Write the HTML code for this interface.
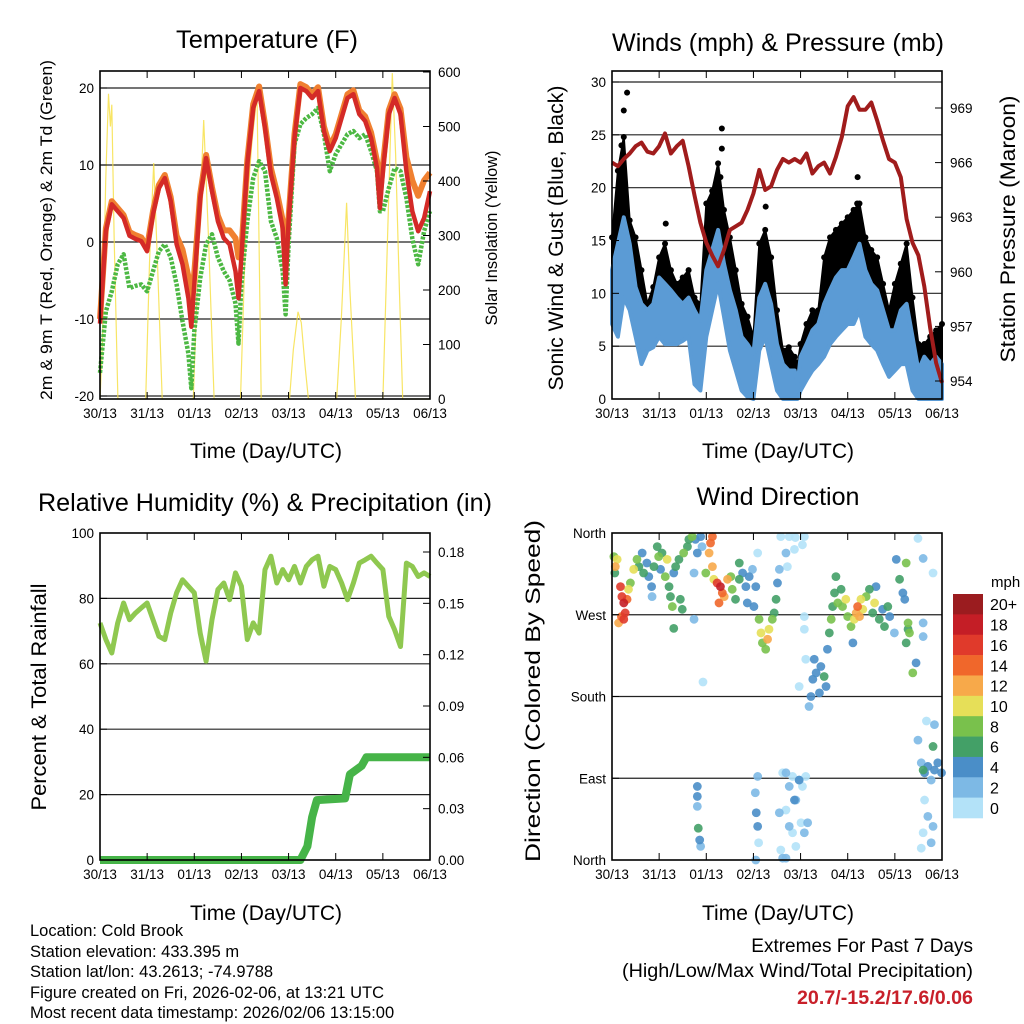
<!DOCTYPE html>
<html><head><meta charset="utf-8"><style>
html,body{margin:0;padding:0;background:#fff}
svg{display:block;font-family:"Liberation Sans",sans-serif}
</style></head><body>
<svg id="s" width="1024" height="1024" viewBox="0 0 1024 1024" xmlns="http://www.w3.org/2000/svg">
<rect width="1024" height="1024" fill="#fff"/>
<g id="g"></g>
<text x="267" y="48" font-size="25" text-anchor="middle" textLength="182" lengthAdjust="spacingAndGlyphs">Temperature (F)</text>
<text x="778" y="51" font-size="25" text-anchor="middle" textLength="332" lengthAdjust="spacingAndGlyphs">Winds (mph) &amp; Pressure (mb)</text>
<text x="265" y="511" font-size="25" text-anchor="middle" textLength="454" lengthAdjust="spacingAndGlyphs">Relative Humidity (%) &amp; Precipitation (in)</text>
<text x="778" y="505" font-size="25" text-anchor="middle" textLength="163" lengthAdjust="spacingAndGlyphs">Wind Direction</text>
<text x="266" y="458" font-size="21" text-anchor="middle" textLength="152" lengthAdjust="spacingAndGlyphs">Time (Day/UTC)</text>
<text x="778" y="458" font-size="21" text-anchor="middle" textLength="152" lengthAdjust="spacingAndGlyphs">Time (Day/UTC)</text>
<text x="266" y="920" font-size="21" text-anchor="middle" textLength="152" lengthAdjust="spacingAndGlyphs">Time (Day/UTC)</text>
<text x="778" y="920" font-size="21" text-anchor="middle" textLength="152" lengthAdjust="spacingAndGlyphs">Time (Day/UTC)</text>
<text transform="translate(52,230) rotate(-90)" font-size="17" text-anchor="middle" textLength="340" lengthAdjust="spacingAndGlyphs">2m &amp; 9m T (Red, Orange) &amp; 2m Td (Green)</text>
<text transform="translate(497,238) rotate(-90)" font-size="16.5" text-anchor="middle" textLength="175" lengthAdjust="spacingAndGlyphs">Solar Insolation (Yellow)</text>
<text transform="translate(563,238) rotate(-90)" font-size="21" text-anchor="middle" textLength="305" lengthAdjust="spacingAndGlyphs">Sonic Wind &amp; Gust (Blue, Black)</text>
<text transform="translate(1015,229) rotate(-90)" font-size="21" text-anchor="middle" textLength="267" lengthAdjust="spacingAndGlyphs">Station Pressure (Maroon)</text>
<text transform="translate(46,697) rotate(-90)" font-size="21" text-anchor="middle" textLength="227" lengthAdjust="spacingAndGlyphs">Percent &amp; Total Rainfall</text>
<text transform="translate(540,691) rotate(-90)" font-size="21" text-anchor="middle" textLength="342" lengthAdjust="spacingAndGlyphs">Direction (Colored By Speed)</text>
<g font-size="16.5">
<text x="30" y="936">Location: Cold Brook</text>
<text x="30" y="957">Station elevation: 433.395 m</text>
<text x="30" y="977">Station lat/lon: 43.2613; -74.9788</text>
<text x="30" y="998">Figure created on Fri, 2026-02-06, at 13:21 UTC</text>
<text x="30" y="1018">Most recent data timestamp: 2026/02/06 13:15:00</text>
</g>
<text x="973" y="952" font-size="19" text-anchor="end">Extremes For Past 7 Days</text>
<text x="973" y="977" font-size="19" text-anchor="end" textLength="351" lengthAdjust="spacingAndGlyphs">(High/Low/Max Wind/Total Precipitation)</text>
<text x="973" y="1004" font-size="19" font-weight="bold" fill="#c8202a" text-anchor="end" textLength="176" lengthAdjust="spacingAndGlyphs">20.7/-15.2/17.6/0.06</text>
</svg>
<script>
// ---------- data ----------
const dayLabels=["30/13","31/13","01/13","02/13","03/13","04/13","05/13","06/13"];
const tT=[0,0.125,0.25,0.375,0.5,0.625,0.75,0.875,1,1.125,1.25,1.375,1.5,1.625,1.75,1.875,1.9375,2,2.125,2.25,2.375,2.5,2.625,2.75,2.875,2.9375,3,3.125,3.25,3.375,3.5,3.625,3.75,3.875,3.9375,4,4.125,4.25,4.375,4.5,4.625,4.75,4.875,5,5.125,5.25,5.375,5.5,5.625,5.75,5.875,5.9375,6,6.125,6.25,6.375,6.5,6.625,6.75,6.875,7];
const temp2m=[-10.6,1.4,4.9,4,3.1,0.8,0.4,0.1,-1.2,3.6,7,8.3,5.3,-0.3,-2.9,-7.3,-11,-5.5,5.7,10.9,6.6,2.7,0.5,-0.3,-3.8,-7.3,-2,10.1,17.4,19.6,14.8,8.8,5.7,1.8,-5.5,2.7,13.5,20,19.6,18.7,19.6,14.4,11.8,13.5,16.1,18.7,19.2,16.6,15.7,13.5,9.6,4.4,9.2,16.6,18.7,16.6,9.2,4,1.4,3.1,6.6];
const temp9m=[-10,1.8,5.3,4.4,3.5,1.3,0.9,0.6,-0.7,4,7.4,8.7,5.8,0.8,-1,-4.5,-8,-4,6.2,11.3,7.1,3.4,1.5,1.5,0.5,-2,-1,10.6,17.9,20.2,15.3,9.6,6.5,2.8,-3,3.2,14,20.5,20.1,19.2,20.1,15,12.4,14,16.6,19.2,19.7,17.1,16.3,14.2,10.5,6,10,17.1,19.2,17.3,11,8,6,8,9];
const dew2m=[-17,-9,-6.4,-2.9,-1.6,-6,-5.7,-5.5,-6.4,-3.8,-1.2,-0.3,-2,-5.5,-10.3,-14.5,-19,-11.6,-4.7,-0.3,1,-2,-3.8,-5,-8,-13.2,-5.5,2.7,8.3,10.5,9.2,2.7,0.5,-3.8,-9.4,-0.3,12.7,15.3,16.1,16.6,17.4,14,9.2,11.4,12.7,14,14.4,13.5,14,11.8,9.2,4,4,7,9.6,9.2,5.7,0.5,-2.9,1.4,4];
const solarT=[0,0.05,0.12,0.18,0.22,0.25,0.3,0.38,0.97,1.05,1.14,1.22,1.32,1.98,2.1,2.2,2.3,2.42,2.98,3.1,3.22,3.33,3.42,4.02,4.1,4.2,4.27,4.35,4.42,5.02,5.12,5.23,5.3,5.42,6.0,6.1,6.2,6.27,6.35,6.42,7];
const solarV=[0,100,400,560,500,540,300,0,0,250,433,250,0,0,300,512,300,0,0,330,470,560,0,0,90,160,140,60,0,0,150,360,200,0,0,300,598,450,200,0,0];
const windT=[0,0.125,0.25,0.375,0.5,0.625,0.75,0.875,1,1.125,1.25,1.375,1.5,1.625,1.75,1.875,2,2.125,2.25,2.375,2.5,2.625,2.75,2.875,3,3.125,3.25,3.375,3.5,3.625,3.75,3.875,3.9375,4,4.125,4.25,4.375,4.5,4.625,4.75,4.875,5,5.125,5.25,5.375,5.5,5.625,5.75,5.875,6,6.125,6.25,6.375,6.5,6.625,6.75,6.875,7];
const windHi=[12.2,14.7,17.2,14.7,10.6,9,8.4,9,11.5,10.9,10.3,9.6,9,9.6,8.4,7.4,12.2,14.1,16,12.8,10.3,8.4,5.9,5.2,4.3,9.6,10.9,9,5.2,3.3,2.7,2.7,1.4,4,5.2,6.5,7.1,9,10.3,11.5,12.2,12.2,13.4,14.7,12.2,10.9,10.3,8.4,6.5,6.5,8.4,9,5.9,2.7,4,3.3,4,3.3];
const windLo=[7.1,5.9,9.6,8.4,5.9,3.3,4.6,4.9,5.9,5.2,5.2,5.2,5.5,5.9,1.4,0.8,5.9,8.4,10.9,7.8,4.6,2.7,0.8,0.2,0,4.6,5.9,3.3,0.8,0,0,0,0,0.8,1.8,2.7,3.3,4,5.2,5.9,6.5,7.1,7.1,8.4,5.9,5.2,4.6,3.3,2.1,2.7,3.3,3.3,0.8,0,0,0,0,0];
const gustHi=[15.3,21.6,24.8,16.9,15.3,12.2,9,10.6,13.4,14.7,12.2,10.9,11.5,12.2,9.6,9,18.5,19.7,22.3,17.9,15.3,12.2,9,7.8,5.9,14.7,16,13.4,8.4,4.6,4.9,4,3.3,5.2,7.1,8.4,8.4,13.4,15.3,16,16.6,17.2,17.9,18.5,15.3,14.1,13.4,10.9,8.4,10.9,12.8,14.7,9.6,5.2,5.2,5.9,6.5,7.1];
const gustLo=[10.6,10.6,13.4,12.2,9,6.5,5.2,6.5,8.4,9,7.8,7.1,6.5,7.1,5.2,4.6,11.5,12.2,13.4,10.9,8.4,5.9,4,3.3,2.7,8.4,9.6,7.1,4,1.4,1.4,1.1,0.8,2.1,3.3,4.6,5.2,7.1,8.4,9.6,10.3,10.9,11.5,12.8,10.3,9,8.4,6.5,4,5.9,7.1,8.4,3.3,1.4,2.1,1.4,2.7,2.7];
const gustOutT=[0.32,0.25,2.33,2.33,5.21,1.14,3.26,0.2,2.3,5.2,4.9];
const gustOutV=[29,27.3,25.6,23.7,21,16.6,18.2,24,21,18.5,16];
const presT=windT;
const pressure=[966,965.8,966.2,966.5,966.9,967.1,966.6,966.5,966.9,967.6,966.5,966.9,967.2,965.8,964.2,962.7,961.6,960.9,960.3,961.2,962.3,962.5,962.7,963.4,964.3,965.6,964.5,964.7,965.6,966.2,966,966.2,966.1,966,966.5,965.4,965.8,966,965.4,966.3,967.4,969.1,969.6,968.9,968.9,969.3,968.3,967.2,966.2,966,965.2,962.9,961.6,960.9,959.2,956.9,955,953.9];
const rhT=[0,0.125,0.25,0.375,0.5,0.625,0.75,0.875,1,1.125,1.25,1.375,1.5,1.625,1.75,1.875,2,2.125,2.25,2.375,2.5,2.625,2.75,2.875,3,3.125,3.25,3.375,3.5,3.625,3.75,3.875,4,4.125,4.25,4.375,4.5,4.625,4.75,4.875,5,5.125,5.25,5.375,5.5,5.625,5.75,5.875,6,6.125,6.25,6.375,6.5,6.625,6.75,6.875,7];
const rhV=[72.5,67.4,63.3,72.5,78.6,73.5,75.5,77.1,78.6,73.5,68.4,67.4,75.5,81.7,85.7,83.7,81.7,69.4,60.8,73.5,82.7,84.7,79.6,87.8,83.7,67.4,72.5,69.4,88.8,92.9,84.7,88.8,85.7,89.8,84.7,89.8,91.8,92.9,83.7,89.8,88.8,84.7,79.6,84.7,90.8,91.8,92.9,90.8,88.8,74.5,70.4,65.3,90.8,89.8,86.7,87.8,86.7];
const precipT=[0,4.25,4.4,4.5,4.6,5.2,5.3,5.55,5.65,7];
const precipV=[0,0,0.008,0.025,0.035,0.036,0.05,0.055,0.06,0.06];
const dirDay=[0.04,0.07,0.11,0.06,0.18,0.21,0.25,0.28,0.2,0.32,0.35,0.39,0.14,0.25,0.46,0.53,0.57,0.64,0.67,0.74,0.78,0.84,0.85,0.89,0.96,0.99,1.03,1.06,1.13,1.17,1.21,1.24,1.28,1.31,1.35,1.42,1.45,1.49,1.52,1.6,1.63,1.7,1.77,1.81,1.88,1.91,1.74,1.31,1.74,1.93,1.99,2.06,2.09,2.13,2.13,2.16,2.23,2.3,2.34,2.38,2.27,2.45,2.52,2.55,2.62,2.7,2.7,2.77,2.84,2.87,2.91,2.98,3.05,3.01,3.09,3.12,3.16,3.19,3.26,3.3,3.33,3.4,3.44,3.48,3.51,3.55,3.58,3.69,3.72,3.76,3.89,4.08,3.87,4.04,4.08,4.08,4.11,3.97,4.18,4.22,4.26,4.29,4.33,4.4,4.43,4.5,4.54,4.57,4.61,4.65,4.68,4.72,4.75,4.79,4.86,4.89,4.96,5,5.07,5.11,5.14,5.18,5.21,5.25,5.28,5.32,5.39,5.46,5.53,5.57,5.6,5.67,5.74,5.78,5.85,5.89,5.99,6.03,6.1,6.17,6.21,6.24,6.28,6.31,6.24,6.28,6.38,6.45,6.6,6.6,6.81,6.6,6.49,6.56,6.63,6.7,6.77,6.84,6.91,6.99,6.6,6.81,6.49,6.84,6.67,6.63,6.7,6.81,6.6,6.77,6.56,3.05,3.09,3.04,3.06,3.09,3.11,3.62,3.69,3.76,3.83,3.9,3.97,4.04,4.11,3.62,3.69,3.76,3.83,3.9,4.01,4.08,4.15,3.55,3.58,3.69,3.87,3.97,1.81,1.81,1.81,1.83,1.86,1.88,1.86,1.99];
const dirDeg=[334,323,331,316,301,290,283,272,268,287,298,305,261,265,320,331,323,338,316,327,312,301,290,323,345,334,320,338,312,331,301,290,279,316,323,331,287,276,338,345,353,356,353,338,356,345,316,255,265,196,316,338,349,356,323,309,305,301,294,290,283,309,312,298,287,327,309,316,301,283,312,320,301,279,338,265,250,239,232,243,254,265,272,287,305,320,356,338,323,356,355,356,342,347,268,254,221,191,169,180,199,221,206,184,213,202,191,232,250,265,279,294,312,283,298,279,287,268,257,239,265,272,279,268,287,276,290,298,272,283,301,265,276,257,279,268,250,331,309,294,287,327,261,250,239,254,206,217,246,261,316,332,354,107,96,103,88,99,107,96,99,125,132,149,153,66,48,37,30,19,13,0,92,74,52,37,19,2,96,81,92,66,88,81,92,96,55,37,30,15,41,30,41,52,11,2,66,88,81,70,59,35,22,15,6,0,11];
const dirSpd=[8,12,10,6,16,16,18,16,14,14,10,8,12,16,10,8,6,4,6,4,4,4,2,6,6,8,4,6,8,10,6,6,8,4,6,6,6,6,8,6,6,8,4,4,4,2,2,6,2,0,8,12,14,14,12,10,16,18,14,12,14,12,8,8,6,6,6,4,4,4,4,2,4,4,0,8,10,8,8,12,10,8,6,6,4,2,0,2,0,0,0,0,0,0,0,0,0,0,2,4,4,4,4,4,4,6,4,4,6,8,6,6,6,8,6,8,10,8,8,4,10,12,14,12,10,10,8,6,6,10,4,6,4,6,6,4,2,4,6,4,4,8,8,8,6,6,8,4,2,2,0,2,0,2,4,4,2,4,4,4,6,6,2,2,0,0,2,2,0,2,0,2,2,2,4,4,0,2,2,2,0,2,0,0,0,0,0,2,0,0,0,2,2,2,0,2,4,4,4,4,2,6,4,2];
const cbLabels=["20+","18","16","14","12","10","8","6","4","2","0"];
const cbColors=["#9b1c1f","#c41e26","#e03a2b","#f0672b","#f7a94a","#e6df58","#79c14c","#43a067","#4a8ec8","#7db9e5","#b3e2f8"];

// ---------- helpers ----------
const NS="http://www.w3.org/2000/svg";
const G=document.getElementById('g');
function mk(tag,attrs,parent){const e=document.createElementNS(NS,tag);for(const k in attrs)e.setAttribute(k,attrs[k]);(parent||G).appendChild(e);return e;}
function lin(d0,d1,r0,r1){return v=>r0+(v-d0)*(r1-r0)/(d1-d0);}
function pathOf(xs,ys,fx,fy){return xs.map((x,i)=>(i?'L':'M')+fx(x).toFixed(1)+' '+fy(ys[i]).toFixed(1)).join(' ');}
function xAxis(L,R,B,T,name){
  const fx=lin(0,7,L,R);
  dayLabels.forEach((lab,i)=>{
    const x=fx(i);
    const t1=mk('line',{x1:x,y1:B,x2:x,y2:B-7,stroke:'#000','stroke-width':1});
    
    const t2=mk('line',{x1:x,y1:T,x2:x,y2:T+7,stroke:'#000','stroke-width':1});
    
    const tx=mk('text',{x:x,y:B+19,'font-size':13.5,'text-anchor':'middle'});tx.textContent=lab;
    
  });
  return fx;
}
function frame(L,T,R,B,name){
  const r=mk('rect',{x:L,y:T,width:R-L,height:B-T,fill:'none',stroke:'#000','stroke-width':1.6});
  
}
function hgrid(fy,vals,L,R,name){vals.forEach(v=>{const y=fy(v);const l=mk('line',{x1:L,x2:R,y1:y,y2:y,stroke:'#222','stroke-width':1.2});
  });}
function yTicks(fy,vals,x,side,labels,name){vals.forEach((v,i)=>{const y=fy(v);
  const l=mk('line',{x1:x,x2:x+(side<0?7:-7),y1:y,y2:y,stroke:'#000','stroke-width':1});
  
  const t=mk('text',{x:side<0?x-6:x+8,y:y+5,'font-size':13.5,'text-anchor':side<0?'end':'start'});t.textContent=labels[i];
  });}

// ---------- Panel 1: Temperature ----------
(function(){
  const L=100,R=430,T=71,B=399;
  const fx=lin(0,7,L,R), fy=lin(-20,20,396,88), fs=lin(0,600,399,72);
  hgrid(fy,[20,10,0,-10,-20],L,R,'temp');
  const sol=mk('path',{d:pathOf(solarT,solarV,fx,fs),fill:'none',stroke:'#f7e04a','stroke-width':1.2,opacity:0.85});
  
  const o=mk('path',{d:pathOf(tT,temp9m,fx,fy),fill:'none',stroke:'#f08030','stroke-width':6,'stroke-linejoin':'round'});
  
  const g=mk('path',{d:pathOf(tT,dew2m,fx,fy),fill:'none',stroke:'#4cb843','stroke-width':4.5,'stroke-dasharray':'3 1.5','stroke-linejoin':'round'});
  
  const r=mk('path',{d:pathOf(tT,temp2m,fx,fy),fill:'none',stroke:'#d42a27','stroke-width':4.5,'stroke-linejoin':'round'});
  
  frame(L,T,R,B,'temp');
  xAxis(L,R,B,T,'temp');
  yTicks(fy,[20,10,0,-10,-20],L,-1,['20','10','0','-10','-20'],'temp-y');
  yTicks(fs,[600,500,400,300,200,100,0],R,1,['600','500','400','300','200','100','0'],'solar-y');
})();

// ---------- Panel 2: Winds & Pressure ----------
(function(){
  const L=612,R=942,T=71,B=399;
  const fx=lin(0,7,L,R), fy=lin(0,30,399,82), fp=lin(954,969,381,108);
  hgrid(fy,[30,25,20,15,10,5],L,R,'wind');
  const gb=windT.map((t,i)=>fx(t).toFixed(1)+','+fy(gustHi[i]).toFixed(1)).concat(windT.slice().reverse().map((t,j)=>{const i=windT.length-1-j;return fx(t).toFixed(1)+','+fy(gustLo[i]).toFixed(1);})).join(' ');
  const gp=mk('polygon',{points:gb,fill:'#000',stroke:'#000','stroke-width':2,'stroke-linejoin':'round'});
  
  windT.forEach((t,i)=>{const c=mk('circle',{cx:fx(t),cy:fy(gustHi[i]),r:3,fill:'#000'});
    });
  gustOutT.forEach((t,i)=>{const c=mk('circle',{cx:fx(t),cy:fy(gustOutV[i]),r:3,fill:'#000'});
    });
  const wb=windT.map((t,i)=>fx(t).toFixed(1)+','+fy(windHi[i]).toFixed(1)).concat(windT.slice().reverse().map((t,j)=>{const i=windT.length-1-j;return fx(t).toFixed(1)+','+fy(windLo[i]).toFixed(1);})).join(' ');
  const wp=mk('polygon',{points:wb,fill:'#5b9bd5',stroke:'#5b9bd5','stroke-width':4,'stroke-linejoin':'round'});
  
  const p=mk('path',{d:pathOf(presT,pressure,fx,fp),fill:'none',stroke:'#a01c1c','stroke-width':4,'stroke-linejoin':'round'});
  
  frame(L,T,R,B,'wind');
  xAxis(L,R,B,T,'wind');
  yTicks(fy,[30,25,20,15,10,5,0],L,-1,['30','25','20','15','10','5','0'],'wind-y');
  yTicks(fp,[969,966,963,960,957,954],R,1,['969','966','963','960','957','954'],'pressure-y');
})();

// ---------- Panel 3: RH & Precip ----------
(function(){
  const L=100,R=430,T=533,B=860;
  const fx=lin(0,7,L,R), fy=lin(0,100,860,533), fp=lin(0,0.18,860,552);
  hgrid(fy,[80,60,40,20],L,R,'rh');
  const r=mk('path',{d:pathOf(rhT,rhV,fx,fy),fill:'none',stroke:'#8fc850','stroke-width':5,'stroke-linejoin':'round'});
  
  const p=mk('path',{d:pathOf(precipT,precipV,fx,fp),fill:'none',stroke:'#46b448','stroke-width':8,'stroke-linejoin':'round'});
  
  frame(L,T,R,B,'rh');
  xAxis(L,R,B,T,'rh');
  yTicks(fy,[100,80,60,40,20,0],L,-1,['100','80','60','40','20','0'],'rh-y');
  yTicks(fp,[0.18,0.15,0.12,0.09,0.06,0.03,0],R,1,['0.18','0.15','0.12','0.09','0.06','0.03','0.00'],'precip-y');
})();

// ---------- Panel 4: Wind Direction ----------
(function(){
  const L=612,R=942,T=533,B=860;
  const fx=lin(0,7,L,R), fy=lin(0,360,860,533);
  hgrid(fy,[270,180,90],L,R,'dir');
  const order=dirSpd.map((s,i)=>i).sort((a,b)=>dirSpd[a]-dirSpd[b]);
  order.forEach(i=>{
    const idx=Math.max(0,Math.min(10,10-Math.round(dirSpd[i]/2)));
    const c=mk('circle',{cx:fx(dirDay[i]),cy:fy(dirDeg[i]),r:4.4,fill:cbColors[idx],opacity:0.9});
    
  });
  frame(L,T,R,B,'dir');
  xAxis(L,R,B,T,'dir');
  yTicks(fy,[360,270,180,90,0],L,-1,['North','West','South','East','North'],'dir-y');
  const h=(818-594)/11;
  cbColors.forEach((c,i)=>{
    const r=mk('rect',{x:953,y:594+i*h,width:30,height:h+0.3,fill:c});
    
    const t=mk('text',{x:990,y:594+i*h+h/2+6,'font-size':16});t.textContent=cbLabels[i];
    
  });
  const m=mk('text',{x:991,y:587,'font-size':15});m.textContent='mph';
  
})();
</script>
</body></html>
